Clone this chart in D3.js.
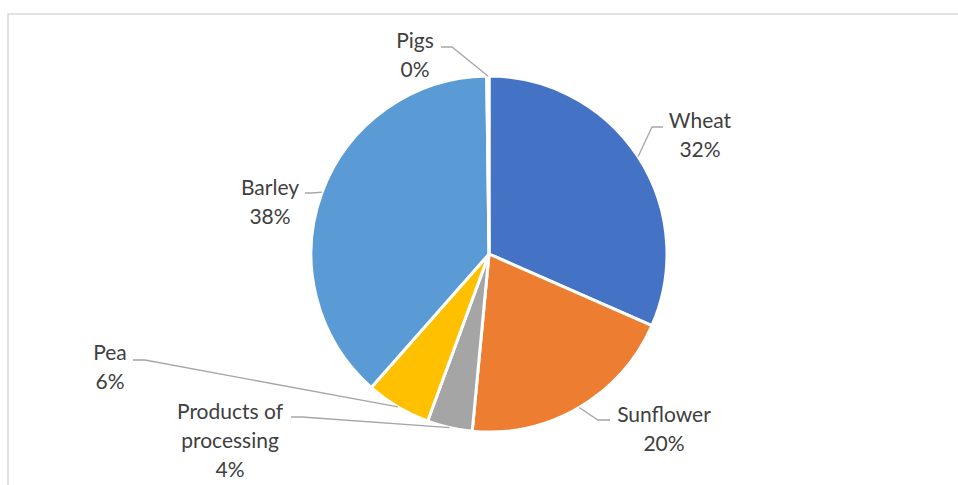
<!DOCTYPE html>
<html>
<head>
<meta charset="utf-8">
<script src="https://cdn.jsdelivr.net/npm/d3@7"></script>
<style>
  body { margin: 0; background: #fff; }
  svg text { font-family: Lato, "Open Sans", sans-serif; font-size: 21px; fill: #404040; }
</style>
</head>
<body>
<svg id="chart"></svg>
<script>
// data (shares in %, clockwise from 12 o'clock)
const categories = ["Wheat", "Sunflower", "Products of processing", "Pea", "Barley", "Pigs"];
const values = [31.6, 19.9, 4.1, 5.9, 38.3, 0.2];
const colors = ["#4472C4", "#ED7D31", "#A5A5A5", "#FFC000", "#5B9BD5", "#70AD47"];

// label layout: text lines, label centre x, first baseline y, elbow of leader line
const labelLines = [["Wheat"], ["Sunflower"], ["Products of", "processing"], ["Pea"], ["Barley"], ["Pigs"]];
const labelX = [700, 664, 230, 110, 270, 415];
const labelY = [128, 422, 419, 360, 195, 48];
const leaderFrom = [[663, 127], [610, 420], [291, 417], [133, 360], [305, 193], [441, 47]];
const leaderElbow = [[652, 127], [598, 420], [302, 417], [145, 360], [312, 193], [452, 47]];

const width = 958, height = 485;
const cx = 489, cy = 254, r = 178;
const lineH = 29;

const svg = d3.select("#chart").attr("width", width).attr("height", height);

// chart area frame (only top and left edges are visible)
svg.append("path")
   .attr("d", `M8,${height} L8,14 L${width},14`)
   .attr("fill", "none")
   .attr("stroke", "#d9d9d9")
   .attr("stroke-width", 1.5);

const total = d3.sum(values);
const data = categories.map((c, i) => ({ name: c, value: values[i], i }));

const pie = d3.pie().value(d => d.value).sort(null);
const arcs = pie(data);
const arc = d3.arc().innerRadius(0).outerRadius(r);

const g = svg.append("g").attr("transform", `translate(${cx},${cy})`);

g.selectAll("path.slice")
 .data(arcs)
 .enter()
 .append("path")
 .attr("class", "slice")
 .attr("d", arc)
 .attr("fill", d => colors[d.data.i])
 .attr("stroke", "#fff")
 .attr("stroke-width", 3)
 .attr("stroke-linejoin", "round");

// leader lines: label side -> elbow -> slice edge at mid angle
svg.selectAll("polyline.leader")
   .data(arcs)
   .enter()
   .append("polyline")
   .attr("class", "leader")
   .attr("points", d => {
       const a = (d.startAngle + d.endAngle) / 2;
       const px = cx + r * Math.sin(a), py = cy - r * Math.cos(a);
       const k = d.data.i;
       return [leaderFrom[k], leaderElbow[k], [px, py]].map(p => p.join(",")).join(" ");
   })
   .attr("fill", "none")
   .attr("stroke", "#a6a6a6")
   .attr("stroke-width", 1.3);

// labels
const labels = svg.selectAll("text.lbl")
   .data(arcs)
   .enter()
   .append("text")
   .attr("class", "lbl")
   .attr("text-anchor", "middle");

labels.each(function(d) {
    const k = d.data.i;
    const t = d3.select(this);
    const lines = labelLines[k].concat([Math.round(d.data.value / total * 100) + "%"]);
    lines.forEach((s, j) => {
        t.append("tspan")
         .attr("x", labelX[k])
         .attr("y", labelY[k] + j * lineH)
         .text(s);
    });
});
</script>
</body>
</html>
